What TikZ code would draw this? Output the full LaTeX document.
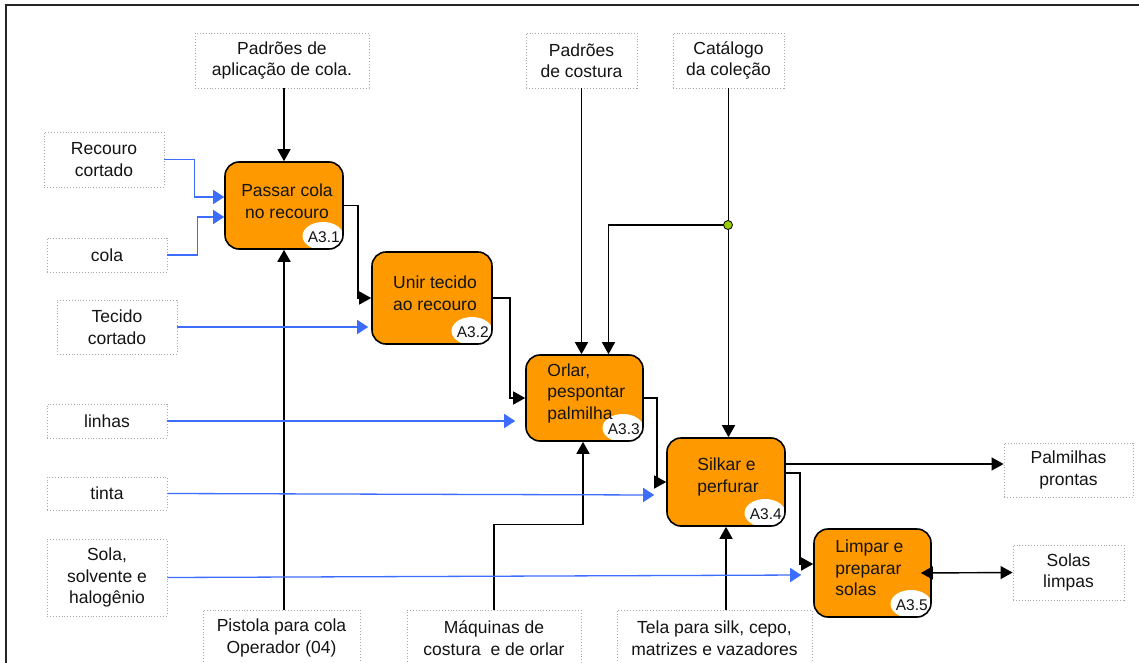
\documentclass[tikz,border=0pt]{standalone}
\usepackage{fontspec}
\setmainfont{Liberation Sans}
\usetikzlibrary{arrows.meta,calc}
\definecolor{procfill}{HTML}{FF9900}
\definecolor{flowblue}{HTML}{3D6DFF}
\definecolor{joint}{HTML}{99CC00}
\definecolor{notegray}{HTML}{A8A8A8}
\begin{document}
\begin{tikzpicture}[x=1pt,y=-1pt,
  every node/.style={font=\fontsize{17.5}{21.5}\selectfont, text=black!92},
  note/.style={draw=notegray, dotted, line width=0.9pt, fill=white, inner sep=0pt, align=center},
  proc/.style={draw=black, line width=1.6pt, fill=procfill, rounded corners=14pt, inner sep=0pt,
    path picture={\fill[white] ([shift={(-20pt,13pt)}]path picture bounding box.south east)
      ellipse [x radius=20.5pt, y radius=14pt];}},
  ptext/.style={inner sep=0pt},
  tag/.style={inner sep=0pt, font=\fontsize{15.5}{17}\selectfont},
  arr/.style={draw=black, line width=1.4pt, -{Triangle[length=12pt,width=13pt]}},
  barr/.style={draw=flowblue, line width=1.3pt, -{Triangle[length=11pt,width=14pt]}},
  both/.style={draw=black, line width=1.4pt, {Triangle[length=12pt,width=13pt]}-{Triangle[length=12pt,width=13pt]}}
]
\useasboundingbox (0,0) rectangle (1139,663);
\fill[white] (0,0) rectangle (1139,663);
% outer frame
\draw[line width=2pt, black!85] (5.5,680) -- (5.5,5.5) -- (1150,5.5);

% controls, inputs, mechanisms and outputs
\node[note, minimum width=174pt, minimum height=55pt] (padcola) at (282,60.5) {Padrões de\\aplicação de cola.};
\node[note, minimum width=111pt, minimum height=55pt] (padcost) at (581.5,60.5) {Padrões\\de costura};
\node[note, minimum width=111pt, minimum height=55pt] (catalogo) at (728.5,60.5) {Catálogo\\da coleção};
\node[note, minimum width=120pt, minimum height=55pt] (recouro) at (104,159.5) {Recouro\\cortado};
\node[note, minimum width=120pt, minimum height=34pt] (cola) at (107,255) {cola};
\node[note, minimum width=120pt, minimum height=54pt] (tecido) at (117,327) {Tecido\\cortado};
\node[note, minimum width=120pt, minimum height=34pt] (linhas) at (107,421) {linhas};
\node[note, minimum width=120pt, minimum height=33pt] (tinta) at (107,493.5) {tinta};
\node[note, minimum width=120pt, minimum height=77pt] (sola) at (107,577.5) {Sola,\\solvente e\\halogênio};
\node[note, minimum width=157pt, minimum height=56pt] (pistola) at (281.5,638) {Pistola para cola\\Operador (04)};
\node[note, minimum width=174pt, minimum height=56pt] (maquinas) at (494,638) {Máquinas de\\costura\ \ e de orlar};
\node[note, minimum width=195pt, minimum height=56pt] (tela) at (714.5,638) {Tela para silk, cepo,\\matrizes e vazadores};
\node[note, minimum width=129pt, minimum height=54pt] (palmilhas) at (1068.5,470) {Palmilhas\\prontas};
\node[note, minimum width=111pt, minimum height=55pt] (solas) at (1068.5,572.5) {Solas\\limpas};

% activities
\node[proc, minimum width=118pt, minimum height=87pt] (a31) at (284,205.5) {};
\node[proc, minimum width=120pt, minimum height=92pt] (a32) at (432,298) {};
\node[proc, minimum width=117pt, minimum height=86pt] (a33) at (584.5,398) {};
\node[proc, minimum width=118pt, minimum height=88pt] (a34) at (726,482) {};
\node[proc, minimum width=117pt, minimum height=88pt] (a35) at (872.5,573) {};

\node[ptext, align=center] (t31) at ([shift={(3pt,4.5pt)}]a31.center) {Passar cola\\no recouro};
\node[ptext, align=center] (t32) at ([shift={(3pt,5pt)}]a32.center) {Unir tecido\\ao recouro};
\node[ptext, align=left, anchor=west] (t33) at ([shift={(22pt,5pt)}]a33.west) {Orlar,\\pespontar\\palmilha};
\node[ptext, align=left] (t34) at ([shift={(2pt,5pt)}]a34.center) {Silkar e\\perfurar};
\node[ptext, align=left, anchor=west] (t35) at ([shift={(22pt,5pt)}]a35.west) {Limpar e\\preparar\\solas};

\node[tag] (g31) at ([shift={(-20pt,13pt)}]a31.south east) {A3.1};
\node[tag] (g32) at ([shift={(-20pt,13pt)}]a32.south east) {A3.2};
\node[tag] (g33) at ([shift={(-20pt,13pt)}]a33.south east) {A3.3};
\node[tag] (g34) at ([shift={(-20pt,13pt)}]a34.south east) {A3.4};
\node[tag] (g35) at ([shift={(-20pt,13pt)}]a35.south east) {A3.5};

% flow between activities
\draw[arr] (a31.east) -- ++(14,0) |- (a32.west);
\draw[arr] (a32.east) -- ++(17,0) |- (a33.west);
\draw[arr] (a33.east) -- ++(13,0) |- (a34.west);
\draw[arr] ([yshift=9pt]a34.east) -- ++(14,0) |- ([yshift=9pt]a35.west);
\draw[arr] ([yshift=18pt]a34.east) -- ([yshift=6pt]palmilhas.west);
\draw[both] ([xshift=-11pt]a35.east) -- (solas.west);

% controls
\draw[arr] (padcola.south -| a31.north) -- (a31.north);
\draw[arr] (padcost.south) -- (padcost.south |- a33.north);
\coordinate (j) at (728,225);
\draw[arr] (catalogo.south) -- (catalogo.south |- a34.north);
\draw[arr] (j) -| ([xshift=24pt]a33.north);
\filldraw[fill=joint, draw=black, line width=0.8pt] (j) circle (4.5pt);

% mechanisms
\draw[arr] (pistola.north -| a31.south) -- (a31.south);
\draw[arr] (maquinas.north) -- ++(0,-85) -| ([xshift=-1.5pt]a33.south);
\draw[arr] (tela.north -| a34.south) -- (a34.south);

% inputs
\draw[barr] (recouro.east) -- ++(30,0) |- ([yshift=8.5pt]a31.west);
\draw[barr] (cola.east) -- ++(30,0) |- ([yshift=-11.5pt]a31.west);
\draw[barr, shorten >=3pt] (tecido.east) -- (tecido.east -| a32.west);
\draw[barr, shorten >=10pt] (linhas.east) -- (linhas.east -| a33.west);
\draw[barr] (tinta.east) -- ([shift={(-12pt,-13pt)}]a34.west);
\draw[barr] (sola.east) -- ([shift={(-12pt,-2pt)}]a35.west);
\end{tikzpicture}
\end{document}
